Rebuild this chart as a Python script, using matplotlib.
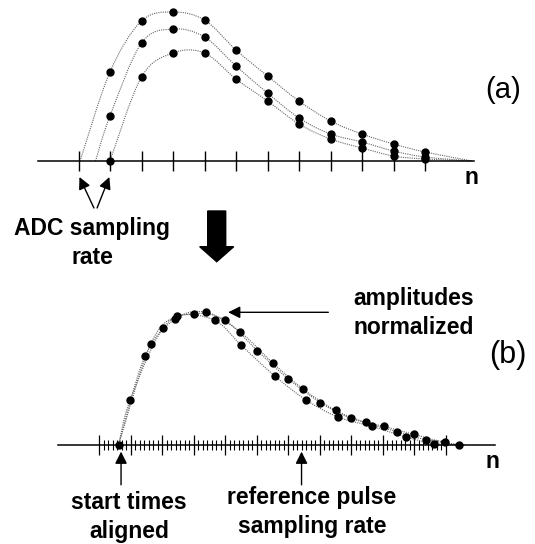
import numpy as np
import matplotlib
matplotlib.use('Agg')
import matplotlib.pyplot as plt
from matplotlib.path import Path
from matplotlib.patches import PathPatch, FancyArrow

plt.rcParams['font.family'] = ['Liberation Sans', 'DejaVu Sans']

W, H = 535, 544

# (a) three pulses sampled by the ADC (sample index n, raw amplitude)
adc_ticks = np.arange(0, 12)
a_n = np.arange(1, 12)
a_upper = [89, 140, 149, 141, 111, 85, 60, 40, 27, 17, 9]
a_middle = [45, 118, 132, 124, 95, 68, 43, 27, 19, 10, 4]
a_lower = [0, 84, 108, 108, 82, 60, 37, 22, 13, 5, 2]
a_starts = [0.05, 0.54, 1.0]
a_end = 12.5

# (b) same pulses, start times aligned and amplitudes normalized
ref_ticks = np.arange(0, 12)
ref_sub = 7
b_start = 0.62
b_end = 11.6
b1_n = [0.62, 1.64, 2.49, 3.67, 4.52, 5.58, 6.57, 7.59, 8.67, 9.75, 10.65]
b1_y = [0.0, 0.76, 0.97, 0.94, 0.75, 0.52, 0.34, 0.21, 0.14, 0.06, 0.01]
b2_n = [0.99, 2.03, 3.0, 4.0, 5.03, 6.0, 7.03, 8.0, 9.04, 10.0, 10.97]
b2_y = [0.34, 0.88, 0.99, 0.94, 0.71, 0.50, 0.32, 0.20, 0.14, 0.08, 0.02]
b3_n = [1.46, 2.42, 3.40, 4.49, 5.51, 6.49, 7.52, 8.47, 9.46, 10.38, 11.43]
b3_y = [0.67, 0.95, 1.0, 0.85, 0.62, 0.42, 0.26, 0.17, 0.10, 0.04, 0.0]


def smooth_path(xs, ys):
    # catmull-rom through the knots, drawn as cubic bezier segments
    pts = np.column_stack([xs, ys]).astype(float)
    verts = [pts[0]]
    codes = [Path.MOVETO]
    for i in range(len(pts) - 1):
        p0 = pts[max(i - 1, 0)]
        p1 = pts[i]
        p2 = pts[i + 1]
        p3 = pts[min(i + 2, len(pts) - 1)]
        verts += [p1 + (p2 - p0) / 6, p2 - (p3 - p1) / 6, p2]
        codes += [Path.CURVE4] * 3
    return Path(verts, codes)


def draw_pulse(ax, xs, ys, start, end):
    kx = [start] + list(xs) + [end]
    ky = [0.0] + list(ys) + [0.0]
    if kx[0] == kx[1]:
        kx, ky = kx[1:], ky[1:]
    ax.add_patch(PathPatch(smooth_path(kx, ky), fill=False, ec='#666666',
                           lw=0.8, ls=(0, (1, 1)), zorder=2))
    ax.plot(xs, ys, 'o', color='black', ms=5, zorder=3, clip_on=False)


def box(left, top, width, height):
    return [left / W, 1 - (top + height) / H, width / W, height / H]


def fxy(x, y):
    return x / W, 1 - y / H


fig = plt.figure(figsize=(W / 100, H / 100), dpi=100)
UNIT = 31.5

ax_a = fig.add_axes(box(78.5 - 1.5 * UNIT, 0, 15 * UNIT, 215))
ax_a.set_xlim(-1.5, 13.5)
ax_a.set_ylim(-54, 161)

ax_b = fig.add_axes(box(99 - 1.5 * UNIT, 290, 15 * UNIT, 254))
ax_b.set_xlim(-1.5, 13.5)
ax_b.set_ylim(-99 / 132.7, 155 / 132.7)

for ax in (ax_a, ax_b):
    ax.patch.set_visible(False)
    for s in ['top', 'right', 'left']:
        ax.spines[s].set_visible(False)
    ax.spines['bottom'].set_position(('data', 0))
    ax.spines['bottom'].set_bounds(-1.3, 12.57)
    ax.spines['bottom'].set_linewidth(1.1)
    ax.set_yticks([])
    ax.tick_params(axis='x', which='both', labelbottom=False, direction='inout')

ax_a.set_xticks(adc_ticks)
ax_a.tick_params(axis='x', which='major', length=14.4, width=1.0)

ax_b.set_xticks(ref_ticks)
minor = [t + k / ref_sub for t in ref_ticks[:-1] for k in range(1, ref_sub)]
ax_b.set_xticks(minor, minor=True)
ax_b.tick_params(axis='x', which='major', length=15, width=0.9)
ax_b.tick_params(axis='x', which='minor', length=7.2, width=0.8)

for ys, st in zip([a_upper, a_middle, a_lower], a_starts):
    draw_pulse(ax_a, a_n, ys, st, a_end)

for xs, ys in [(b1_n, b1_y), (b2_n, b2_y), (b3_n, b3_y)]:
    draw_pulse(ax_b, xs, ys, b_start, b_end)

arrow = dict(arrowstyle='-|>', mutation_scale=18, lw=1.0, color='black',
             shrinkA=0, shrinkB=0)

# (a) annotations
ax_a.annotate('', xy=(0.03, -16), xytext=(0.49, -47), arrowprops=arrow,
              annotation_clip=False)
ax_a.annotate('', xy=(0.98, -16), xytext=(0.59, -47), arrowprops=arrow,
              annotation_clip=False)

# (b) annotations
ax_b.annotate('', xy=(0.70, -0.05), xytext=(0.70, -0.30), arrowprops=arrow,
              annotation_clip=False)
ax_b.annotate('', xy=(6.43, -0.05), xytext=(6.43, -0.30), arrowprops=arrow,
              annotation_clip=False)
ax_b.annotate('', xy=(4.10, 1.0), xytext=(7.28, 1.0), arrowprops=arrow,
              annotation_clip=False)

# y given is the baseline of the last line
bold = dict(fontsize=16.5, fontweight='bold', ha='center', va='baseline',
            linespacing=1.33)
fig.text(*fxy(92, 264), 'ADC sampling\nrate', **bold)
fig.text(*fxy(414, 334), 'amplitudes\nnormalized', **bold)
fig.text(*fxy(129, 538), 'start times\naligned', **bold)
fig.text(*fxy(312, 533), 'reference pulse\nsampling rate', **bold)

fig.text(*fxy(471.5, 177.5), 'n', fontsize=16.5, fontweight='bold',
         ha='center', va='center')
fig.text(*fxy(492, 461.7), 'n', fontsize=16.5, fontweight='bold',
         ha='center', va='center')
fig.text(*fxy(503, 90), '(a)', fontsize=21, ha='center', va='center')
fig.text(*fxy(508, 355), '(b)', fontsize=22, ha='center', va='center')

# big arrow between the two panels
fig.patches.append(FancyArrow(2.167, 3.33, 0, -0.507, width=0.18,
                              head_width=0.34, head_length=0.15,
                              length_includes_head=True, color='black',
                              transform=fig.dpi_scale_trans, figure=fig))

fig.savefig('out.png', dpi=100)
